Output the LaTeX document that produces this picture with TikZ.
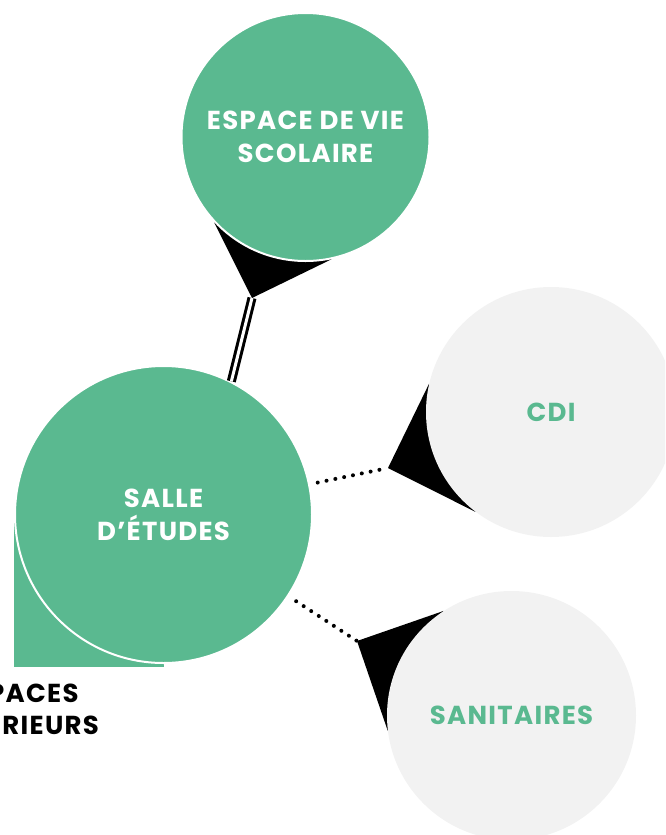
\documentclass[tikz,border=0pt]{standalone}
\usepackage{fontspec}
\setmainfont{Poppins}[LetterSpace=5]
\usetikzlibrary{backgrounds}
\definecolor{vert}{HTML}{5AB990}
\definecolor{grisclair}{HTML}{F2F2F2}
\begin{document}
\begin{tikzpicture}[x=1pt, y=-1pt, line join=round,
		font=\bfseries\fontsize{26}{33}\selectfont,
		bulle/.style={circle, inner sep=0pt, align=center},
		bullevert/.style={bulle, fill=vert, draw=white, line width=2pt, text=white},
		bullegris/.style={bulle, fill=grisclair, text=vert},
		pointille/.style={line width=4pt, line cap=round, dash pattern=on 0pt off 9pt},
		lien/.style={double=white, draw=black, line width=3pt, double distance=3pt}]
				\useasboundingbox (0,0) rectangle (665,835);
				\clip (0,0) rectangle (665,835);
				% bulles
				\node [bullevert, minimum size=248pt] (vie) at (305.5,137) {ESPACE DE VIE\\SCOLAIRE};
				\node [bullegris, minimum size=250pt] (cdi) at (551,412) {CDI};
				\node [bullegris, minimum size=249pt] (san) at (511.5,715.5) {SANITAIRES};
				\node [bullevert, minimum size=297pt] (salle) at (163.5,514.5) {SALLE\\D’ÉTUDES};
				\node [align=center, text=black, font=\bfseries\fontsize{26}{32}\selectfont] (exterieurs) at (17,709) {ESPACES\\EXTÉRIEURS};
				% pointes des bulles
				\coordinate (pointevie) at (252,298);
				\coordinate (pointecdi) at (388,468);
				\coordinate (pointesan) at (357,641);
				\begin{scope}[on background layer]
				\fill [black] (pointevie) -- (vie.223) -- (vie.282) -- cycle;
				\fill [black] (pointecdi) -- (cdi.167) -- (cdi.233) -- cycle;
				\fill [black] (pointesan) -- (san.123) -- (san.187) -- cycle;
				\fill [vert] (salle.center) rectangle ([yshift=-3pt]salle.west |- salle.south);
				\end{scope}
				% liens
				\draw [lien] (pointevie) -- (salle.63);
				\draw [pointille, shorten <=8pt] (salle) -- (pointecdi);
				\draw [pointille, shorten <=9pt] (salle) -- (pointesan);
\end{tikzpicture}
\end{document}
